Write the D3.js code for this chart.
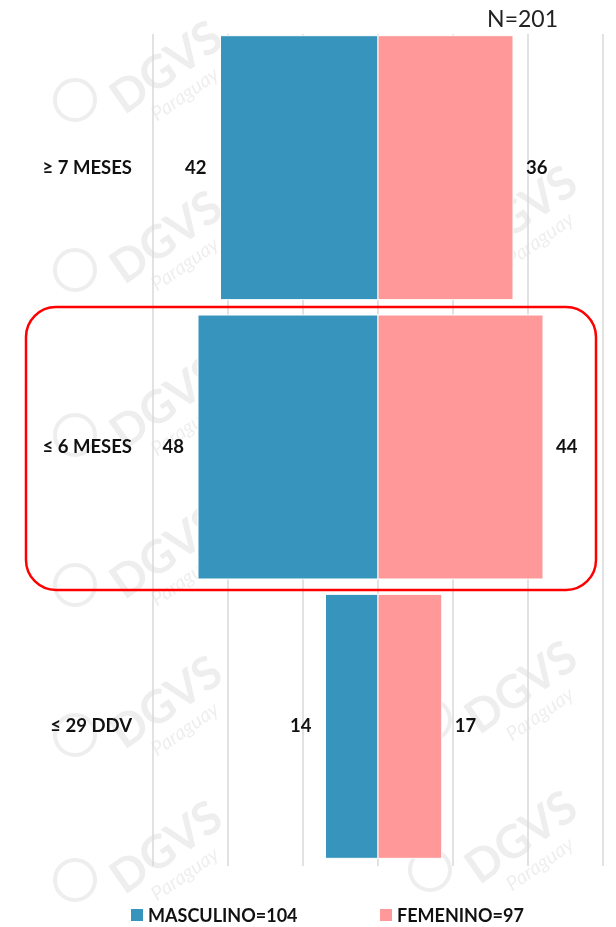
<!DOCTYPE html>
<html>
<head>
<meta charset="utf-8">
<script src="https://d3js.org/d3.v7.min.js"></script>
<style>
body { margin: 0; background: #fff; }
text { font-family: Lato, "Open Sans", sans-serif; }
</style>
</head>
<body>
<svg id="chart" width="616" height="927"></svg>
<script>

var categories = ["≥ 7 MESES", "≤ 6 MESES", "≤ 29 DDV"];
var masculino = [42, 48, 14];
var femenino = [36, 44, 17];
var gridTicks = [-60, -40, -20, 0, 20, 40, 60];
var legendLabels = ["MASCULINO=104", "FEMENINO=97"];
var totalLabel = "N=201";
var highlighted = "≤ 6 MESES";

var colMale = "#3795bd";
var colFemale = "#ff9999";

var svg = d3.select("#chart");

// Scales
var x = d3.scaleLinear()
  .domain([-60, 60])
  .range([153, 603]);

var y = d3.scaleBand()
  .domain(categories)
  .range([28, 866])
  .paddingInner(0.055)
  .paddingOuter(0.0275);

// faint watermark, just to get the look
var marks = [[175, 80], [175, 250], [175, 415], [175, 565], [175, 715], [175, 860],
             [530, 225], [530, 700], [530, 850]];
var wm = svg.append("g").attr("opacity", 0.07);
marks.forEach(function(m) {
  var g = wm.append("g").attr("transform", "translate(" + m[0] + "," + m[1] + ") rotate(-35)");
  g.append("text").attr("text-anchor", "middle")
    .style("font-size", "46px").style("font-weight", "bold").text("DGVS");
  g.append("text").attr("text-anchor", "middle").attr("y", 24)
    .style("font-size", "20px").style("font-style", "italic").text("Paraguay");
  wm.append("circle").attr("cx", m[0] - 100).attr("cy", m[1] + 20).attr("r", 20)
    .attr("fill", "none").attr("stroke", "#000").attr("stroke-width", 4);
});

// Gridlines
svg.append("g").selectAll("line")
  .data(gridTicks)
  .enter().append("line")
  .attr("x1", function(d) { return x(d); })
  .attr("x2", function(d) { return x(d); })
  .attr("y1", y.range()[0] + 6)
  .attr("y2", y.range()[1])
  .attr("stroke", "#d9d9d9")
  .attr("stroke-width", 1.5);

var rows = categories.map(function(c, i) {
  return { cat: c, m: masculino[i], f: femenino[i] };
});

// Bars
svg.append("g").selectAll("rect")
  .data(rows)
  .enter().append("rect")
  .attr("x", function(d) { return x(-d.m); })
  .attr("y", function(d) { return y(d.cat); })
  .attr("width", function(d) { return x(0) - x(-d.m); })
  .attr("height", y.bandwidth())
  .attr("fill", colMale)
  .attr("stroke", "#fff")
  .attr("stroke-width", 1);

svg.append("g").selectAll("rect")
  .data(rows)
  .enter().append("rect")
  .attr("x", x(0))
  .attr("y", function(d) { return y(d.cat); })
  .attr("width", function(d) { return x(d.f) - x(0); })
  .attr("height", y.bandwidth())
  .attr("fill", colFemale)
  .attr("stroke", "#fff")
  .attr("stroke-width", 1);

// Value labels
var mid = function(d) { return y(d.cat) + y.bandwidth() / 2 + 6; };

svg.append("g").selectAll("text")
  .data(rows)
  .enter().append("text")
  .attr("x", function(d) { return x(-d.m) - 14; })
  .attr("y", mid)
  .attr("text-anchor", "end")
  .style("font-size", "18.5px").style("font-weight", "bold").attr("fill", "#111")
  .text(function(d) { return d.m; });

svg.append("g").selectAll("text")
  .data(rows)
  .enter().append("text")
  .attr("x", function(d) { return x(d.f) + 13; })
  .attr("y", mid)
  .attr("text-anchor", "start")
  .style("font-size", "18.5px").style("font-weight", "bold").attr("fill", "#111")
  .text(function(d) { return d.f; });

// Category labels
svg.append("g").selectAll("text")
  .data(rows)
  .enter().append("text")
  .attr("x", 132)
  .attr("y", mid)
  .attr("text-anchor", "end")
  .style("font-size", "18.5px").style("font-weight", "bold").attr("fill", "#111")
  .text(function(d) { return d.cat; });

// Red highlight box around one category
svg.append("rect")
  .attr("x", 26)
  .attr("y", y(highlighted) - 8)
  .attr("width", 570)
  .attr("height", y.bandwidth() + 19)
  .attr("rx", 30).attr("ry", 30)
  .attr("fill", "none")
  .attr("stroke", "#ff0000")
  .attr("stroke-width", 2.5);

// Total
svg.append("text")
  .attr("x", 558).attr("y", 27)
  .attr("text-anchor", "end")
  .style("font-size", "23px").attr("fill", "#222")
  .text(totalLabel);

// Legend
var legendX = [131, 380];
var legendCols = [colMale, colFemale];
legendLabels.forEach(function(l, i) {
  svg.append("rect")
    .attr("x", legendX[i]).attr("y", 909)
    .attr("width", 12).attr("height", 12)
    .attr("fill", legendCols[i]);
  svg.append("text")
    .attr("x", legendX[i] + 17).attr("y", 922)
    .style("font-size", "18px").style("font-weight", "bold").attr("fill", "#111")
    .text(l);
});

</script>
</body>
</html>
